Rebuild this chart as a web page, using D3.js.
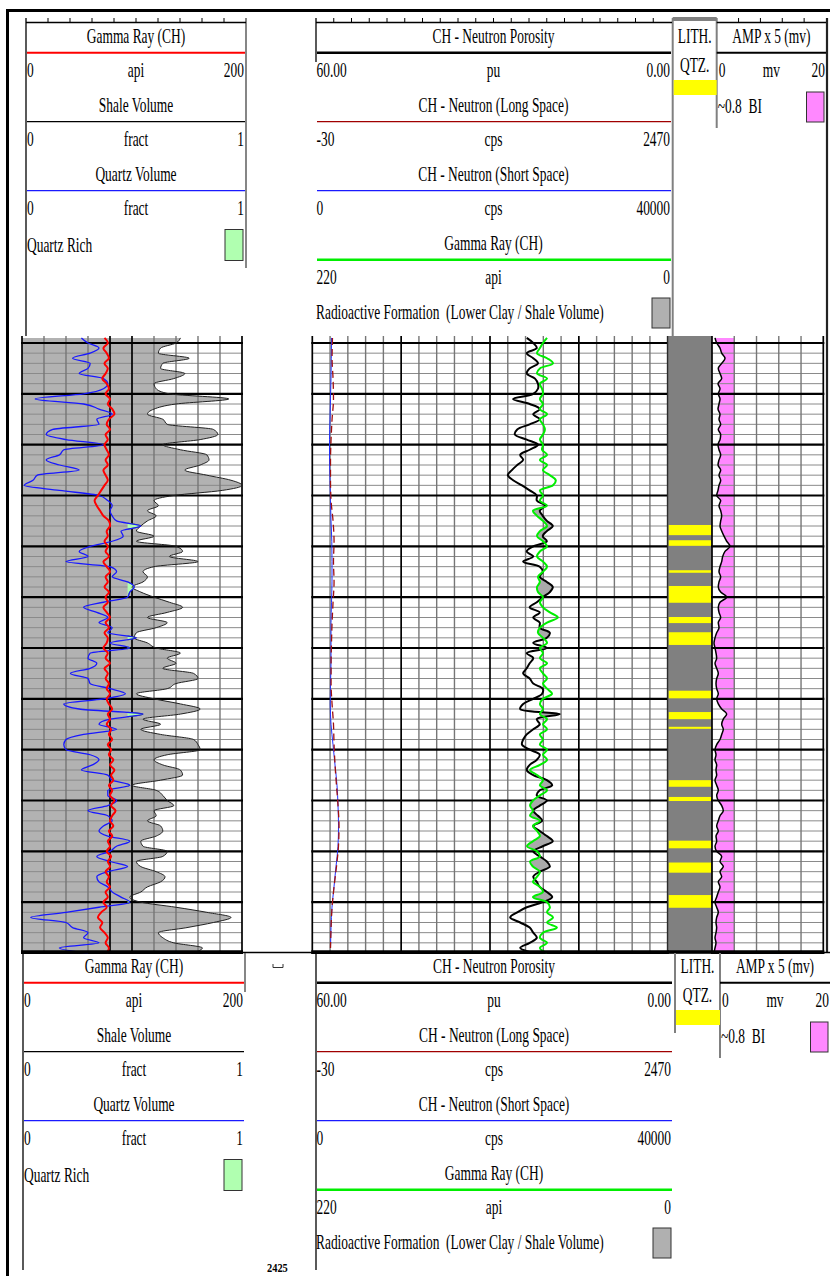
<!DOCTYPE html>
<html><head><meta charset="utf-8">
<script src="https://cdn.jsdelivr.net/npm/d3@7/dist/d3.min.js"></script>
<style>
html,body{margin:0;padding:0;background:#fff;}
svg{display:block;}
text{font-family:"Liberation Serif","Times New Roman",serif;white-space:pre;fill:#000;}
</style></head><body>
<svg id="c" width="830" height="1276"></svg>
<script>
// ---------------- DATA (1 ft samples from 2304 ft) ----------------
const firstDepth = 2304;
const shaleVolume = [0.72,
0.70,0.63,0.62,0.76,0.64,0.63,0.74,0.69,0.60,0.61,0.67,0.94,0.70,0.60,0.57,0.64,0.66,0.87,0.89,0.81,0.64,0.72,0.84,0.85,0.81,0.74,0.84,0.95,1.00,0.91,0.69,
0.60,0.62,0.57,0.61,0.57,0.54,0.52,0.60,0.52,0.70,0.73,0.67,0.80,0.60,0.55,0.57,0.55,0.50,0.54,0.60,0.67,0.73,0.66,0.57,0.66,0.61,0.52,0.51,0.57,0.61,
0.72,0.66,0.70,0.64,0.78,0.80,0.70,0.66,0.52,0.60,0.72,0.81,0.72,0.55,0.63,0.54,0.63,0.78,0.80,0.81,0.66,0.60,0.64,0.72,0.73,0.63,0.50,0.61,0.64,0.66,
0.69,0.60,0.61,0.57,0.63,0.64,0.61,0.54,0.55,0.66,0.64,0.52,0.54,0.61,0.65,0.63,0.57,0.54,0.49,0.54,0.70,0.84,0.95,0.87,0.75,0.62,0.64,0.69,0.82,0.78];
const quartzVolume = [0.27,
0.30,0.35,0.31,0.23,0.31,0.30,0.26,0.37,0.39,0.37,0.28,0.06,0.28,0.35,0.41,0.34,0.35,0.14,0.11,0.20,0.37,0.19,0.17,0.11,0.17,0.26,0.07,0.05,0.01,0.17,0.35,
0.39,0.41,0.40,0.41,0.43,0.54,0.45,0.46,0.41,0.31,0.26,0.30,0.20,0.40,0.43,0.41,0.48,0.51,0.49,0.48,0.37,0.28,0.34,0.39,0.35,0.41,0.39,0.52,0.40,0.49,
0.31,0.30,0.34,0.31,0.22,0.30,0.31,0.40,0.47,0.37,0.19,0.26,0.55,0.40,0.35,0.43,0.28,0.20,0.19,0.20,0.31,0.35,0.32,0.27,0.39,0.41,0.49,0.39,0.39,0.43,
0.39,0.30,0.39,0.41,0.37,0.35,0.39,0.49,0.43,0.40,0.34,0.40,0.48,0.39,0.34,0.35,0.39,0.41,0.45,0.49,0.35,0.20,0.04,0.20,0.23,0.30,0.28,0.35,0.17,0.30];
const gammaRayT1 = [75,78,74,77,79,75,78,76,73,77,
79,76,80,78,82,84,79,77,80,76,
78,75,77,79,76,78,74,76,78,75,
72,69,66,68,71,74,79,80,77,78,
75,78,76,79,74,77,80,76,78,75,
79,76,78,74,77,80,76,79,75,78,
77,74,78,76,80,75,78,76,79,77,
80,77,79,82,78,80,77,81,79,82,
78,81,79,83,80,84,81,83,79,82,
80,84,81,85,82,80,83,79,82,78,
80,77,81,78,80,76,79,77,80,76,
78,74,77,72,69,73,71,75,78,76,
79,77];
const neutronPorosity = [23.8,
22.7,22.1,23.8,22.7,21.9,23.3,23.8,22.4,21.9,21.9,22.7,26.1,23.3,21.6,22.7,21.6,23.3,25.4,25.8,23.8,21.9,23.3,24.9,24.4,25.4,26.3,27.0,26.1,24.6,23.3,22.1,
22.1,20.7,21.6,21.1,20.4,19.4,20.4,21.1,20.4,22.7,23.8,22.7,24.4,21.6,21.1,21.6,20.4,19.4,19.9,21.1,22.1,23.3,21.6,22.7,21.6,21.6,19.9,20.4,22.7,20.4,
23.8,22.7,23.3,23.8,24.4,23.3,22.7,21.1,21.2,22.7,24.4,24.9,18.2,22.1,21.6,22.7,23.8,24.4,24.6,23.3,21.6,22.1,23.3,23.8,22.7,20.4,19.5,21.6,22.1,20.4,
21.6,22.7,21.9,21.2,22.7,21.6,20.4,19.4,21.1,22.7,21.6,20.4,19.9,21.6,22.7,22.1,21.6,20.4,19.5,21.1,23.8,25.4,26.6,24.9,23.3,22.7,22.1,23.3,24.9,22.7];
const gammaRayT2 = [74.7,77.2,79.1,80.9,74.7,71.0,79.1,80.9,74.7,79.1,77.8,77.2,79.1,77.2,79.1,74.7,79.1,77.2,76.0,77.2,
79.1,77.2,77.8,74.7,79.1,74.7,77.2,72.9,69.3,71.0,79.1,77.2,79.1,74.7,83.4,80.9,77.2,74.7,79.1,80.9,
77.2,74.7,79.1,80.9,77.2,74.7,77.2,80.3,79.1,80.9,80.3,77.2,79.1,77.2,72.9,68.0,74.7,79.1,80.3,77.2,74.7,79.1,
77.2,79.1,74.7,79.1,77.2,74.7,77.2,74.7,71.6,77.2,79.1,77.2,79.1,74.7,77.2,74.7,79.1,77.2,79.1,74.7,
77.2,74.7,79.1,85.2,80.9,77.2,79.1,74.7,79.1,83.4,85.2,83.4,85.2,79.1,83.4,80.9,79.1,83.4,87.1,80.9,
79.1,85.2,83.4,79.1,80.9,83.4,79.1,77.2,83.4,74.7,72.9,74.7,71.0,74.7,68.6,77.2,79.1,74.7,79.1,74.7];
const ampX5 = [0.54,
0.84,1.44,1.74,2.34,1.74,1.13,1.44,1.74,1.08,1.44,1.13,1.44,1.26,1.08,1.44,1.26,1.56,1.13,1.56,1.44,1.08,1.26,1.56,1.26,1.08,1.56,1.26,1.56,1.26,1.08,0.84,
1.56,1.26,1.56,1.74,1.56,1.44,1.74,2.16,2.64,3.23,2.34,1.92,1.74,1.44,1.26,1.56,1.26,1.13,1.56,2.64,1.44,1.13,1.26,1.56,1.13,1.26,0.84,0.54,0.36,0.54,
0.72,0.84,0.54,0.84,1.13,0.84,0.72,0.84,1.13,0.84,1.13,1.74,2.64,2.03,1.74,2.03,1.74,1.44,0.84,0.54,
0.72,0.54,0.84,0.72,0.84,0.54,0.84,1.13,0.84,1.13,1.74,2.03,1.44,1.13,0.84,1.13,0.72,0.84,0.54,0.84,
1.74,1.44,2.03,1.44,1.74,1.13,1.44,1.13,0.84,0.54,0.84,1.13,0.84,0.72,0.84,0.72,0.54,0.72,0.54,0.36];
// coarse (4 ft) neutron count curves
const coarseStep = 4;
const neutronShort = [2161,2138,2105,2048,1992,1936,1936,1992,2048,2105,2195,2217,2217,2161,2105,2105,2105,2048,2020,2105,2330,2555,2780,2893,2949,2893,2667,2442,2217,2105,2048];
const neutronLong = [112,109,116,119,109,102,98,98,102,116,123,119,123,116,109,105,102,102,109,119,123,130,140,151,158,154,140,123,109,102,98];
// quartz lithology intervals (ft)
const qtzTop  = [2340.8,2343.8,2349.7,2352.8,2358.9,2361.9,2373.4,2377.6,2380.5,2391.0,2394.3,2402.9,2407.2,2413.6];
const qtzBase = [2342.8,2344.9,2350.2,2356.1,2360.1,2364.4,2374.9,2379.0,2380.9,2392.3,2395.1,2404.4,2409.2,2416.1];
// scales / cutoffs
const depthDomain = [2305, 2425];
const quartzRichCutoff = 0.48;
const biCutoff = 4;
// header labels
const t1Labels = [["Gamma Ray (CH)","0","api","200"],["Shale Volume","0","fract","1"],["Quartz Volume","0","fract","1"]];
const t2Labels = [["CH - Neutron Porosity","60.00","pu","0.00"],["CH - Neutron (Long Space)","-30","cps","2470"],["CH - Neutron (Short Space)","0","cps","40000"],["Gamma Ray (CH)","220","api","0"]];
const depthLabel = "2425";

// ---------------- DRAW ----------------
const svg = d3.select('#c');
const Y0 = 336, Y1 = 953;
const y = d3.scaleLinear().domain(depthDomain).range([343, 953]);
const depth = d3.range(shaleVolume.length).map(i => firstDepth + i);
const depthC = d3.range(neutronShort.length).map(i => firstDepth + coarseStep * i);

const T1 = [22, 242], T2 = [312.3, 667.7], T3 = [668, 712], T4 = [712, 823.3];
const xV = d3.scaleLinear().domain([0, 1]).range(T1);
const xGR1 = d3.scaleLinear().domain([0, 200]).range(T1);
const xN = d3.scaleLinear().domain([60, 0]).range(T2);
const xGR2 = d3.scaleLinear().domain([220, 0]).range(T2);
const xLS = d3.scaleLinear().domain([-30, 2470]).range(T2);
const xSS = d3.scaleLinear().domain([0, 40000]).range(T2);
const xA = d3.scaleLinear().domain([0, 20]).range(T4);

const defs = svg.append('defs');
const curve = d3.curveMonotoneY;
function series(arr, dep) { return arr.map((v, i) => ({ d: dep[i], v })); }

const data = svg.append('g');

// ---- Track 1 fills ----
const sVsh = series(shaleVolume, depth), sQ = series(quartzVolume, depth), sGR1 = series(gammaRayT1, depth);
data.append('path').datum(sVsh)
  .attr('d', d3.area().curve(curve).y(d => y(d.d)).x0(T1[0]).x1(d => xV(d.v)))
  .attr('fill', '#b2b2b2');

function grid(x0, x1, nDiv, dark) {
  const g = data.append('g');
  const hd = d3.range(depthDomain[0], depthDomain[1] + 1, 2);
  g.selectAll(null).data(hd.filter(d => (d - depthDomain[0]) % 10 !== 0)).join('line')
    .attr('x1', x0).attr('x2', x1).attr('y1', d => y(d)).attr('y2', d => y(d))
    .attr('stroke', '#8a8a8a').attr('stroke-width', 1);
  const xs = d3.scaleLinear().domain([0, nDiv]).range([x0, x1]);
  g.selectAll(null).data(d3.range(nDiv + 1)).join('line')
    .attr('x1', i => xs(i)).attr('x2', i => xs(i)).attr('y1', Y0).attr('y2', Y1)
    .attr('stroke', i => dark.includes(i) ? '#000' : '#767676')
    .attr('stroke-width', i => dark.includes(i) ? 1.7 : 1.4);
  g.selectAll(null).data(hd.filter(d => (d - depthDomain[0]) % 10 === 0)).join('line')
    .attr('x1', x0 - 1).attr('x2', x1 + 1).attr('y1', d => y(d)).attr('y2', d => y(d))
    .attr('stroke', '#000').attr('stroke-width', 2.2);
}
grid(T1[0], T1[1], 10, [0, 4, 5, 10]);

// quartz rich (green)
defs.append('clipPath').attr('id', 'qrClip').append('rect')
  .attr('x', xV(quartzRichCutoff)).attr('y', Y0).attr('width', T1[1] - xV(quartzRichCutoff)).attr('height', Y1 - Y0);
data.append('path').datum(sQ).attr('clip-path', 'url(#qrClip)')
  .attr('d', d3.area().curve(curve).y(d => y(d.d)).x0(T1[0]).x1(d => xV(d.v)))
  .attr('fill', '#b0ffb0').attr('stroke', '#2a4a2a').attr('stroke-width', 0.8);

data.append('path').datum(sVsh)
  .attr('d', d3.line().curve(curve).y(d => y(d.d)).x(d => xV(d.v)))
  .attr('fill', 'none').attr('stroke', '#222').attr('stroke-width', 1);
data.append('path').datum(sQ)
  .attr('d', d3.line().curve(curve).y(d => y(d.d)).x(d => xV(d.v)))
  .attr('fill', 'none').attr('stroke', '#1818ff').attr('stroke-width', 1.3);
data.append('path').datum(sGR1)
  .attr('d', d3.line().curve(d3.curveCatmullRom).y(d => y(d.d)).x(d => xGR1(d.v)))
  .attr('fill', 'none').attr('stroke', '#ff0000').attr('stroke-width', 2);

// ---- Track 2 ----
grid(T2[0], T2[1], 20, [0, 5, 10, 15, 20]);
const sN = series(neutronPorosity, depth), sGR2 = series(gammaRayT2, depth);
defs.append('clipPath').attr('id', 'nClip').append('path').datum(sN)
  .attr('d', d3.area().curve(curve).y(d => y(d.d)).x0(T2[0]).x1(d => xN(d.v)));
data.append('path').datum(sGR2).attr('clip-path', 'url(#nClip)')
  .attr('d', d3.area().curve(curve).y(d => y(d.d)).x0(d => xGR2(d.v)).x1(T2[1]))
  .attr('fill', '#a9a9a9');
const sSS = series(neutronShort, depthC), sLS = series(neutronLong, depthC);
data.append('path').datum(sSS)
  .attr('d', d3.line().curve(curve).y(d => y(d.d)).x(d => xSS(d.v)))
  .attr('fill', 'none').attr('stroke', '#2030ff').attr('stroke-width', 1);
data.append('path').datum(sLS)
  .attr('d', d3.line().curve(curve).y(d => y(d.d)).x(d => xLS(d.v)))
  .attr('fill', 'none').attr('stroke', '#a01010').attr('stroke-width', 1.3).attr('stroke-dasharray', '7,4');
data.append('path').datum(sN)
  .attr('d', d3.line().curve(d3.curveCatmullRom).y(d => y(d.d)).x(d => xN(d.v)))
  .attr('fill', 'none').attr('stroke', '#000').attr('stroke-width', 2);
data.append('path').datum(sGR2)
  .attr('d', d3.line().curve(d3.curveCatmullRom).y(d => y(d.d)).x(d => xGR2(d.v)))
  .attr('fill', 'none').attr('stroke', '#00ee00').attr('stroke-width', 2);

// ---- Track 3: lithology ----
data.append('rect').attr('x', T3[0]).attr('y', Y0).attr('width', T3[1] - T3[0]).attr('height', Y1 - Y0).attr('fill', '#808080');
data.selectAll(null).data(qtzTop.map((t, i) => [t, qtzBase[i]])).join('rect')
  .attr('x', T3[0] + 0.5).attr('width', T3[1] - T3[0] - 1)
  .attr('y', d => y(d[0])).attr('height', d => y(d[1]) - y(d[0]))
  .attr('fill', '#ffff00');
data.append('line').attr('x1', T3[0]).attr('x2', T3[0]).attr('y1', Y0).attr('y2', Y1).attr('stroke', '#555').attr('stroke-width', 1);

// ---- Track 4: AMP ----
const sA = series(ampX5, depth);
data.append('path').datum(sA)
  .attr('d', d3.area().curve(curve).y(d => y(d.d)).x0(d => xA(d.v)).x1(xA(biCutoff)))
  .attr('fill', '#ff88ff');
grid(T4[0], T4[1], 5, [0, 5]);
data.append('path').datum(sA)
  .attr('d', d3.line().curve(curve).y(d => y(d.d)).x(d => xA(d.v)))
  .attr('fill', 'none').attr('stroke', '#000').attr('stroke-width', 1.5);

// borders
svg.append('line').attr('x1', 7.5).attr('x2', 7.5).attr('y1', 9).attr('y2', 1276).attr('stroke', '#000').attr('stroke-width', 3);
svg.append('line').attr('x1', 6).attr('x2', 830).attr('y1', 10.5).attr('y2', 10.5).attr('stroke', '#000').attr('stroke-width', 3);
svg.append('line').attr('x1', 827).attr('x2', 827).attr('y1', 18).attr('y2', 953).attr('stroke', '#222').attr('stroke-width', 2.2);
svg.append('line').attr('x1', 22).attr('x2', 830).attr('y1', 952.5).attr('y2', 952.5).attr('stroke', '#000').attr('stroke-width', 1.5);
[[T1[0]-1, T1[1]+1], [T2[0]-1, T2[1]+1], [T3[0], T3[1]], [T4[0], T4[1]+1]].forEach(([a, b]) => {
  svg.append('line').attr('x1', a).attr('x2', b).attr('y1', 952).attr('y2', 952).attr('stroke', '#000').attr('stroke-width', 3.5);
});

// ---------------- HEADERS ----------------
const SX = 0.64, FS = 21;
function txt(g, x, yy, s, anchor) {
  g.append('text').attr('transform', `translate(${x},${yy}) scale(${SX},1)`)
    .attr('text-anchor', anchor || 'start').attr('font-size', FS).text(s);
}
function ln(g, x1, y1, x2, y2, col, w) {
  g.append('line').attr('x1', x1).attr('y1', y1).attr('x2', x2).attr('y2', y2).attr('stroke', col).attr('stroke-width', w);
}
const rb = r => 43 + 34.45 * r;        // text baselines
const rl = j => 52.7 + 69 * j;         // separator lines

function header(P) {
  const g = svg.append('g').attr('transform', `translate(0,${P.dy})`);
  // Track 1
  const [a, b] = P.t1, mA = (a + b) / 2;
  ln(g, a, P.t1L[0], a, P.t1L[1], '#000', 1.3);
  ln(g, b, P.t1R[0], b, P.t1R[1], '#444', 1.3);
  const cols1 = ['#ff0000', '#000', '#1a1aff'];
  t1Labels.forEach((L, j) => {
    txt(g, mA, rb(2 * j), L[0], 'middle');
    ln(g, a + 1, rl(j), b - 1, rl(j), cols1[j], j === 0 ? 2 : 1.3);
    txt(g, a + 1, rb(2 * j + 1), L[1]);
    txt(g, mA, rb(2 * j + 1), L[2], 'middle');
    txt(g, b - 2, rb(2 * j + 1), L[3], 'end');
  });
  txt(g, a + 1, rb(6) + 2, 'Quartz Rich');
  g.append('rect').attr('x', b - 21).attr('y', 229.5).attr('width', 18).attr('height', 31)
    .attr('fill', '#b0ffb0').attr('stroke', '#333').attr('stroke-width', 1);
  // Track 2
  const [c, d] = P.t2, mC = (c + d) / 2;
  ln(g, c, P.t2L[0], c, P.t2L[1], '#000', 1.3);
  const cols2 = ['#000', '#a00000', '#1a1aff', '#00ee00'];
  t2Labels.forEach((L, j) => {
    txt(g, mC, rb(2 * j), L[0], 'middle');
    ln(g, c + 1, rl(j), d, rl(j), cols2[j], j === 0 ? 2.5 : (j === 3 ? 2.5 : 1.3));
    txt(g, c + 0.5, rb(2 * j + 1), L[1]);
    txt(g, mC, rb(2 * j + 1), L[2], 'middle');
    txt(g, d - 1, rb(2 * j + 1), L[3], 'end');
  });
  txt(g, c, rb(8), 'Radioactive Formation  (Lower Clay / Shale Volume)');
  g.append('rect').attr('x', d - 19).attr('y', 298).attr('width', 18).attr('height', 30)
    .attr('fill', '#b0b0b0').attr('stroke', '#333').attr('stroke-width', 1);
  // Track 3
  const [e, f] = P.t3, mE = (e + f) / 2;
  ln(g, e, P.t3L[0], e, P.t3L[1], '#808080', 2);
  ln(g, f, P.t3R[0], f, P.t3R[1], '#808080', 2);
  txt(g, mE, rb(0), 'LITH.', 'middle');
  txt(g, mE, 72, 'QTZ.', 'middle');
  g.append('rect').attr('x', e + 1).attr('y', 80).attr('width', f - e - 1).attr('height', 15).attr('fill', '#ffff00');
  // Track 4
  const [h, k] = P.t4, mH = (h + k) / 2;
  txt(g, mH, rb(0), 'AMP x 5 (mv)', 'middle');
  ln(g, h, rl(0), k, rl(0), '#000', 2);
  txt(g, h + 2, rb(1), '0');
  txt(g, mH, rb(1), 'mv', 'middle');
  txt(g, k - 1, rb(1), '20', 'end');
  txt(g, h + 1, 113, '~0.8  BI');
  g.append('rect').attr('x', k - 19.5).attr('y', 92).attr('width', 17.5).attr('height', 30)
    .attr('fill', '#ff88ff').attr('stroke', '#333').attr('stroke-width', 1);
  if (P.top) {
    ln(g, a, 22.5, b, 22.5, '#000', 1.6);
    ln(g, c, 22.5, d + 1, 22.5, '#000', 1.6);
    ln(g, f, 22.5, k, 22.5, '#000', 1.6);
    g.append('rect').attr('x', e).attr('y', 17).attr('width', f - e).attr('height', 4).attr('fill', '#808080');
    const tk = (x0, x1, n) => d3.range(1, n).forEach(i => { const xx = x0 + (x1 - x0) * i / n; ln(g, xx, 18, xx, 22.5, '#000', 1); });
    tk(a, b, 10); tk(c, d, 20); tk(f, k, 5);
  }
}
header({dy: 0, top: true, t1: [26, 246], t1L: [18, 336], t1R: [18, 268], t2: [316, 671], t2L: [18, 62],
        t3: [672.7, 716.7], t3L: [18, 336], t3R: [18, 128], t4: [716.7, 826]});
header({dy: 930, top: false, t1: [23, 245], t1L: [23, 340], t1R: [23, 62], t2: [316, 672], t2L: [23, 340],
        t3: [675, 720], t3L: [23, 103], t3R: [23, 128], t4: [720, 830]});

// depth annotations
svg.append('path').attr('d', 'M273,964 V967.5 H283 V964').attr('fill', 'none').attr('stroke', '#333').attr('stroke-width', 1);
svg.append('text').attr('transform', 'translate(267,1272) scale(0.8,1)').attr('font-size', 13).attr('font-weight', 'bold').text(depthLabel);
</script>
</body></html>
